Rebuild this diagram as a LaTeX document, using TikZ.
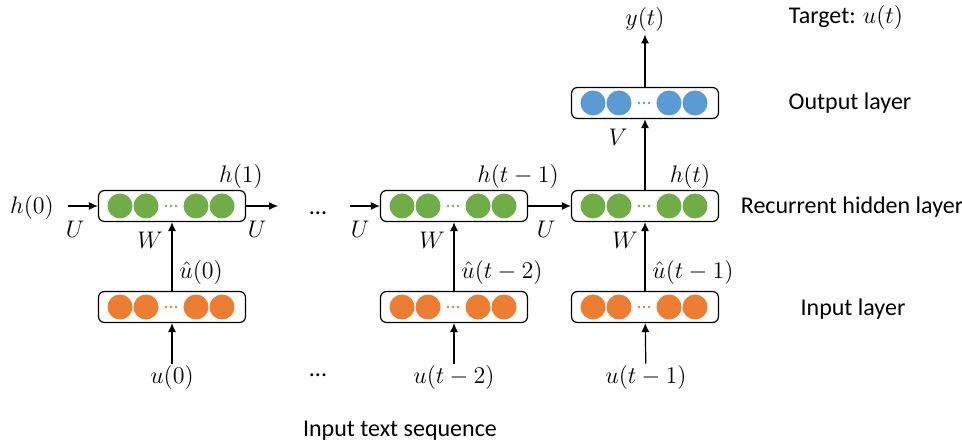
\documentclass[tikz,border=0pt]{standalone}
\usepackage{fontspec}
\setmainfont{Carlito}
\usepackage{amsmath}
\usetikzlibrary{arrows.meta}

\definecolor{hidgreen}{HTML}{70AD47}
\definecolor{inorange}{HTML}{ED7D31}
\definecolor{outblue}{HTML}{5B9BD5}

\tikzset{
  layer/.style={draw, rounded corners=3pt, line width=0.6pt,
    minimum width=73.5pt, minimum height=15.5pt, inner sep=0pt},
  arr/.style={-{Latex[length=4.5pt,width=4pt]}, line width=0.6pt},
  mlabel/.style={inner sep=1pt, font=\large},
  tlabel/.style={inner sep=1pt, font=\large}
}

\begin{document}
\begin{tikzpicture}[x=0.5pt,y=-0.5pt]
  \useasboundingbox (0,0) rectangle (962,442);

  % Layer boxes with their units
  \foreach \nm/\cx/\cy/\col in {
    in1/172/307/inorange, in2/454/307/inorange, in3/645/307/inorange,
    hid1/172/206/hidgreen, hid2/454/206/hidgreen, hid3/645/206/hidgreen,
    out/645/103/outblue}
  {
    \node[layer] (\nm) at (\cx,\cy) {};
    \foreach \dx in {-52,-26,24,50}
      \fill[\col] (\cx+\dx,\cy) circle(6.25pt);
    \foreach \d in {-5,0,5}
      \fill[\col] (\cx-1+\d,\cy) circle(0.7pt);
  }

  % Inputs
  \node[mlabel] (u0) at (172,378) {$u(0)$};
  \node[mlabel] (u2) at (454,378) {$u(t-2)$};
  \node[mlabel] (u1) at (646,378) {$u(t-1)$};
  \node[tlabel] (dotsin) at (318,375) {...};
  \foreach \a/\b in {u0/in1, u2/in2, u1/in3}
    \draw[arr] (\a) -- (\b);

  % Input layer to hidden layer
  \foreach \a/\b in {in1/hid1, in2/hid2, in3/hid3}
    \draw[arr] (\a) -- (\b);
  \node[mlabel,anchor=west] at (177,273) {$\hat{u}(0)$};
  \node[mlabel,anchor=west] at (459,273) {$\hat{u}(t-2)$};
  \node[mlabel,anchor=west] at (650,273) {$\hat{u}(t-1)$};
  \node[mlabel] at (150,240) {$W$};
  \node[mlabel] at (432,240) {$W$};
  \node[mlabel] at (625,240) {$W$};

  % Recurrent connections
  \node[mlabel] (h0) at (32,208) {$h(0)$};
  \coordinate (out1) at (278,206);
  \coordinate (in2h) at (350,206);
  \draw[arr] ([xshift=6pt]h0.east |- hid1) -- (hid1);
  \draw[arr] (hid1) -- (out1);
  \draw[arr] (in2h) -- (hid2);
  \draw[arr] (hid2) -- (hid3);
  \node[tlabel] (dotshid) at (318,213) {...};
  \node[mlabel] at (75,229) {$U$};
  \node[mlabel] at (257,229) {$U$};
  \node[mlabel] at (360,229) {$U$};
  \node[mlabel] at (546,229) {$U$};
  \node[mlabel] at (241,177) {$h(1)$};
  \node[mlabel] at (518,177) {$h(t-1)$};
  \node[mlabel] at (690,177) {$h(t)$};

  % Hidden layer to output
  \draw[arr] (hid3) -- (out);
  \node[mlabel] at (618,137) {$V$};
  \node[mlabel] (yt) at (645,20) {$y(t)$};
  \draw[arr] (out) -- (yt);

  % Layer names
  \node[tlabel] at (846,18) {Target: $u(t)$};
  \node[tlabel] at (850,103) {Output layer};
  \node[tlabel] at (852,207) {Recurrent hidden layer};
  \node[tlabel] at (853,309) {Input layer};
  \node[tlabel] at (400,431) {Input text sequence};
\end{tikzpicture}
\end{document}
